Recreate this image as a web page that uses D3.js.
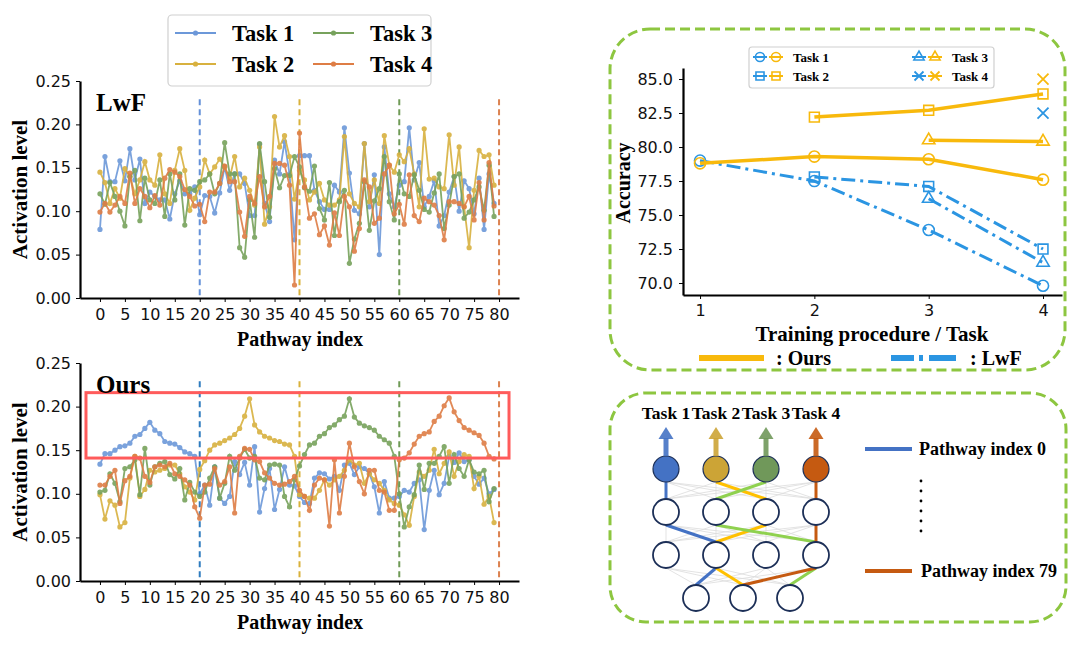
<!DOCTYPE html>
<html>
<head>
<meta charset="utf-8">
<script src="https://cdn.jsdelivr.net/npm/d3@7"></script>
<style>
  body { margin: 0; background: #fff; }
  svg { display: block; }
  .tick text { font-family: "DejaVu Sans", sans-serif; font-size: 16px; fill: #111; }
  .serif { font-family: "Liberation Serif", "Times New Roman", serif; font-weight: bold; fill: #000; }
</style>
</head>
<body>
<svg id="fig" width="1079" height="646"></svg>
<script>
// ---- data: activation level per pathway index ----
var taskNames = ["Task 1", "Task 2", "Task 3", "Task 4"];
var pathwayTicks = d3.range(0, 81, 5);
var activationTicks = [0, 0.05, 0.10, 0.15, 0.20, 0.25];
var taskBoundaries = [20, 40, 60, 80];

var lwfTask1 = [0.079,0.163,0.134,0.134,0.158,0.135,0.172,0.136,0.160,0.109,0.122,0.117,0.113,0.113,0.091,0.120,0.135,0.120,0.120,0.128,
  0.096,0.118,0.117,0.098,0.121,0.151,0.124,0.143,0.143,0.132,0.095,0.095,0.177,0.109,0.088,0.159,0.143,0.180,0.143,0.067,
  0.164,0.164,0.164,0.124,0.111,0.102,0.102,0.130,0.122,0.196,0.144,0.101,0.097,0.178,0.105,0.142,0.050,0.174,0.120,0.105,
  0.130,0.134,0.196,0.136,0.156,0.105,0.117,0.135,0.083,0.095,0.122,0.140,0.100,0.135,0.126,0.097,0.138,0.079,0.143,0.109];
var lwfTask2 = [0.145,0.133,0.109,0.126,0.115,0.149,0.140,0.120,0.136,0.157,0.136,0.130,0.165,0.120,0.109,0.147,0.172,0.147,0.101,0.115,
  0.128,0.159,0.143,0.151,0.160,0.151,0.138,0.163,0.128,0.138,0.124,0.107,0.174,0.085,0.105,0.209,0.174,0.187,0.163,0.114,
  0.147,0.136,0.113,0.122,0.132,0.113,0.107,0.107,0.113,0.186,0.120,0.109,0.105,0.178,0.111,0.136,0.109,0.187,0.153,0.145,
  0.165,0.157,0.172,0.143,0.105,0.195,0.137,0.138,0.128,0.126,0.188,0.130,0.174,0.105,0.058,0.124,0.170,0.163,0.165,0.130];
var lwfTask3 = [0.120,0.108,0.133,0.117,0.100,0.083,0.140,0.147,0.089,0.138,0.113,0.109,0.136,0.094,0.143,0.113,0.143,0.084,0.126,0.124,
  0.134,0.136,0.143,0.120,0.132,0.179,0.143,0.143,0.058,0.047,0.113,0.070,0.178,0.134,0.093,0.149,0.127,0.141,0.141,0.163,
  0.151,0.127,0.123,0.152,0.103,0.090,0.133,0.072,0.111,0.124,0.040,0.068,0.086,0.134,0.078,0.112,0.126,0.163,0.111,0.090,
  0.143,0.120,0.117,0.142,0.124,0.102,0.099,0.121,0.143,0.080,0.107,0.140,0.143,0.092,0.099,0.113,0.128,0.101,0.153,0.094];
var lwfTask4 = [0.099,0.109,0.099,0.107,0.117,0.109,0.144,0.109,0.126,0.117,0.104,0.118,0.107,0.138,0.148,0.145,0.140,0.125,0.117,0.106,
  0.108,0.088,0.122,0.122,0.132,0.152,0.134,0.134,0.099,0.071,0.117,0.109,0.140,0.105,0.117,0.155,0.155,0.153,0.130,0.015,
  0.190,0.128,0.092,0.097,0.073,0.083,0.061,0.098,0.072,0.117,0.105,0.054,0.080,0.136,0.128,0.086,0.092,0.143,0.153,0.097,
  0.108,0.085,0.142,0.095,0.088,0.115,0.111,0.107,0.095,0.067,0.111,0.111,0.109,0.105,0.117,0.090,0.133,0.090,0.156,0.106];

var oursTask1 = [0.134,0.146,0.146,0.150,0.154,0.155,0.158,0.166,0.168,0.175,0.182,0.173,0.169,0.160,0.158,0.157,0.153,0.148,0.146,0.143,
  0.100,0.110,0.087,0.131,0.095,0.089,0.097,0.137,0.122,0.136,0.110,0.154,0.079,0.106,0.129,0.082,0.105,0.131,0.110,0.109,
  0.097,0.090,0.089,0.118,0.124,0.123,0.117,0.120,0.104,0.133,0.135,0.122,0.131,0.129,0.123,0.108,0.078,0.114,0.095,0.095,
  0.097,0.104,0.102,0.112,0.116,0.059,0.104,0.127,0.099,0.112,0.143,0.136,0.147,0.137,0.139,0.120,0.111,0.118,0.100,0.105];
var oursTask2 = [0.099,0.071,0.092,0.087,0.062,0.067,0.118,0.143,0.097,0.105,0.127,0.125,0.127,0.129,0.133,0.133,0.123,0.108,0.102,0.093,
  0.128,0.138,0.150,0.156,0.158,0.161,0.164,0.168,0.175,0.189,0.209,0.179,0.171,0.166,0.164,0.161,0.160,0.157,0.156,0.143,
  0.099,0.097,0.095,0.095,0.104,0.116,0.110,0.116,0.120,0.127,0.139,0.133,0.135,0.112,0.123,0.116,0.112,0.104,0.093,0.089,
  0.087,0.076,0.064,0.097,0.125,0.120,0.127,0.151,0.123,0.135,0.148,0.120,0.137,0.145,0.143,0.106,0.120,0.088,0.097,0.067];
var oursTask3 = [0.102,0.104,0.123,0.112,0.091,0.129,0.131,0.139,0.099,0.152,0.110,0.131,0.135,0.137,0.122,0.117,0.129,0.093,0.113,0.102,
  0.097,0.102,0.118,0.131,0.095,0.112,0.143,0.127,0.141,0.151,0.141,0.143,0.118,0.116,0.133,0.134,0.133,0.097,0.085,0.116,
  0.132,0.145,0.156,0.158,0.166,0.169,0.176,0.179,0.185,0.189,0.209,0.188,0.181,0.178,0.176,0.173,0.166,0.162,0.158,0.143,
  0.100,0.062,0.085,0.099,0.133,0.105,0.135,0.135,0.143,0.154,0.112,0.145,0.129,0.120,0.139,0.125,0.123,0.127,0.091,0.106];
var oursTask4 = [0.110,0.110,0.120,0.127,0.089,0.115,0.120,0.143,0.141,0.120,0.113,0.131,0.133,0.131,0.135,0.123,0.120,0.116,0.110,0.085,
  0.072,0.110,0.111,0.129,0.110,0.114,0.131,0.078,0.143,0.152,0.151,0.139,0.137,0.124,0.118,0.112,0.110,0.111,0.114,0.120,
  0.104,0.097,0.081,0.110,0.118,0.116,0.063,0.139,0.078,0.120,0.158,0.131,0.114,0.100,0.127,0.127,0.104,0.102,0.081,0.081,
  0.139,0.141,0.147,0.157,0.166,0.169,0.171,0.183,0.189,0.201,0.210,0.194,0.184,0.176,0.173,0.170,0.167,0.158,0.143,0.140];

var lwfSeries = [lwfTask1, lwfTask2, lwfTask3, lwfTask4];
var oursSeries = [oursTask1, oursTask2, oursTask3, oursTask4];

// ---- data: accuracy per training step ----
var steps = [1, 2, 3, 4];
var accuracyTicks = [70, 72.5, 75, 77.5, 80, 82.5, 85];
// [task][step-1], null where the task is not trained yet
var oursAcc = [
  [78.8, 79.3, 79.1, 77.6],
  [null, 82.2, 82.7, 83.9],
  [null, null, 80.5, 80.4],
  [null, null, null, 85.0]
];
var lwfAcc = [
  [79.0, 77.5, 73.9, 69.8],
  [null, 77.8, 77.1, 72.5],
  [null, null, 76.2, 71.5],
  [null, null, null, 82.5]
];
var markerTypes = [d3.symbolCircle, d3.symbolSquare, d3.symbolTriangle, "x"];

// ---- diagram: nodes per layer and the node each task pathway goes through ----
var layerSizes = [4, 4, 4, 3];
var taskPaths = [
  [0, 0, 1, 0],
  [1, 2, 1, 1],
  [2, 1, 3, 2],
  [3, 3, 3, 1]
];

// ---- colours ----
var lineColors = ["#6c98d9", "#d8b13f", "#77a25c", "#de7d45"];
var nodeColors = ["#4472c4", "#cca436", "#70985a", "#c55a11"];
var pathColors = ["#4472c4", "#ffc000", "#8fd14f", "#c55a11"];
var oursColor = "#f8b90c", lwfColor = "#2b95e2";
var boxGreen = "#8dc640";

var svg = d3.select("#fig");

function serifText(g, x, y, txt, size, anchor) {
  return g.append("text").attr("class", "serif")
    .attr("x", x).attr("y", y)
    .attr("font-size", size)
    .attr("text-anchor", anchor || "start")
    .text(txt);
}

// ================= activation panels =================
function activationPanel(top, bottom, series, title, boundaryColors, box) {
  var g = svg.append("g");
  var x = d3.scaleLinear().domain([-4, 84]).range([80, 519]);
  var y = d3.scaleLinear().domain([0, 0.25]).range([bottom, top]);

  g.append("g").attr("transform", "translate(0," + bottom + ")")
    .call(d3.axisBottom(x).tickValues(pathwayTicks).tickSize(4).tickPadding(7).tickSizeOuter(0))
    .call(function (a) { a.select(".domain").attr("stroke-width", 2.2); });
  g.append("g").attr("transform", "translate(80,0)")
    .call(d3.axisLeft(y).tickValues(activationTicks).tickFormat(d3.format(".2f")).tickSize(4).tickPadding(5).tickSizeOuter(0))
    .call(function (a) { a.select(".domain").attr("stroke-width", 2.2); });

  // task boundaries
  taskBoundaries.forEach(function (b, i) {
    g.append("line")
      .attr("x1", x(b)).attr("x2", x(b))
      .attr("y1", y(0.229)).attr("y2", y(0))
      .attr("stroke", boundaryColors[i]).attr("stroke-width", 2)
      .attr("stroke-dasharray", "6,4");
  });

  var line = d3.line().x(function (d, i) { return x(i); }).y(function (d) { return y(d); });
  series.forEach(function (vals, k) {
    var s = g.append("g").attr("opacity", 0.9);
    s.append("path").datum(vals)
      .attr("d", line).attr("fill", "none")
      .attr("stroke", lineColors[k]).attr("stroke-width", 1.8);
    s.selectAll("circle").data(vals).join("circle")
      .attr("cx", function (d, i) { return x(i); })
      .attr("cy", function (d) { return y(d); })
      .attr("r", 2.6).attr("fill", lineColors[k]);
  });

  if (box) {
    g.append("rect")
      .attr("x", x(box[0])).attr("y", y(box[3]))
      .attr("width", x(box[1]) - x(box[0]))
      .attr("height", y(box[2]) - y(box[3]))
      .attr("fill", "none").attr("stroke", "#ff5b5b").attr("stroke-width", 3);
  }

  serifText(g, 96, top + 30, title, 25);
  serifText(g, 0, 0, "Activation level", 21, "middle")
    .attr("transform", "translate(27," + (top + bottom) / 2 + ") rotate(-90)");
  serifText(g, 300, bottom + 48, "Pathway index", 20, "middle");
}

activationPanel(81, 298, lwfSeries, "LwF", ["#6390d8", "#d9b13b", "#6f9a56", "#dc8250"], null);
activationPanel(363, 581, oursSeries, "Ours", ["#2f7cbf", "#d9b13b", "#6f9a56", "#dc8250"], [-2.8, 82, 0.141, 0.216]);

// top legend
(function () {
  var g = svg.append("g");
  g.append("rect").attr("x", 168).attr("y", 15).attr("width", 263).attr("height", 71)
    .attr("rx", 4).attr("fill", "#fff").attr("stroke", "#d0d0d0").attr("stroke-width", 1.2);
  taskNames.forEach(function (name, i) {
    var col = Math.floor(i / 2), row = i % 2;
    var lx = 175 + col * 138, ly = 33 + row * 31;
    g.append("line").attr("x1", lx).attr("x2", lx + 41).attr("y1", ly).attr("y2", ly)
      .attr("stroke", lineColors[i]).attr("stroke-width", 2);
    g.append("circle").attr("cx", lx + 20.5).attr("cy", ly).attr("r", 2.6).attr("fill", lineColors[i]);
    serifText(g, lx + 57, ly + 7.5, name, 22.5);
  });
})();

// ================= accuracy panel =================
(function () {
  var g = svg.append("g");
  g.append("rect").attr("x", 610).attr("y", 29).attr("width", 455).attr("height", 341)
    .attr("rx", 40).attr("fill", "none").attr("stroke", boxGreen)
    .attr("stroke-width", 3).attr("stroke-dasharray", "10,5");

  var x = d3.scaleLinear().domain([0.851, 4.166]).range([683, 1062]);
  var y = d3.scaleLinear().domain([69.12, 85.81]).range([295, 68]);

  g.append("g").attr("transform", "translate(0,295)")
    .call(d3.axisBottom(x).tickValues(steps).tickFormat(d3.format("d")).tickSize(4).tickPadding(6).tickSizeOuter(0))
    .call(function (a) { a.select(".domain").attr("stroke-width", 2.2); });
  g.append("g").attr("transform", "translate(683,0)")
    .call(d3.axisLeft(y).tickValues(accuracyTicks).tickFormat(d3.format(".1f")).tickSize(4).tickPadding(6).tickSizeOuter(0))
    .call(function (a) { a.select(".domain").attr("stroke-width", 2.2); });

  function marker(sel, type, color, size) {
    if (type === "x") {
      var h = size * 0.5;
      sel.append("path").attr("d", "M" + -h + "," + -h + "L" + h + "," + h + "M" + -h + "," + h + "L" + h + "," + -h)
        .attr("stroke", color).attr("stroke-width", 1.8).attr("fill", "none");
    } else {
      var a = type === d3.symbolTriangle ? size * size * 0.55 : size * size * 0.8;
      sel.append("path").attr("d", d3.symbol().type(type).size(a)())
        .attr("fill", "none").attr("stroke", color).attr("stroke-width", 1.6);
    }
  }

  function drawMethod(acc, color, dash, width) {
    acc.forEach(function (vals, k) {
      var pts = steps.map(function (s, i) { return [s, vals[i]]; }).filter(function (p) { return p[1] !== null; });
      var ln = d3.line().x(function (p) { return x(p[0]); }).y(function (p) { return y(p[1]); });
      if (pts.length > 1) {
        g.append("path").datum(pts).attr("d", ln).attr("fill", "none")
          .attr("stroke", color).attr("stroke-width", width)
          .attr("stroke-dasharray", dash);
      }
      pts.forEach(function (p) {
        var m = g.append("g").attr("transform", "translate(" + x(p[0]) + "," + y(p[1]) + ")");
        marker(m, markerTypes[k], color, 11);
      });
    });
  }
  drawMethod(lwfAcc, lwfColor, "14,5,3,5", 3);
  drawMethod(oursAcc, oursColor, null, 3.5);

  // legend
  g.append("rect").attr("x", 749).attr("y", 47).attr("width", 245).attr("height", 41)
    .attr("rx", 3).attr("fill", "#fff").attr("fill-opacity", 0.8).attr("stroke", "#d0d0d0").attr("stroke-width", 1.2);
  taskNames.forEach(function (name, k) {
    var col = Math.floor(k / 2), row = k % 2;
    var lx = 760 + col * 159, ly = 57 + row * 19;
    [lwfColor, oursColor].forEach(function (c, j) {
      var cx = lx + j * 16;
      g.append("line").attr("x1", cx - 7).attr("x2", cx + 7).attr("y1", ly).attr("y2", ly)
        .attr("stroke", c).attr("stroke-width", 2);
      var m = g.append("g").attr("transform", "translate(" + cx + "," + ly + ")");
      marker(m, markerTypes[k], c, 9);
    });
    serifText(g, lx + 33, ly + 4.5, name, 13);
  });

  serifText(g, 0, 0, "Accuracy", 20, "middle").attr("transform", "translate(630,183) rotate(-90)");
  serifText(g, 872, 341, "Training procedure / Task", 21, "middle");

  g.append("line").attr("x1", 699).attr("x2", 764).attr("y1", 358).attr("y2", 358)
    .attr("stroke", oursColor).attr("stroke-width", 6);
  serifText(g, 776, 365, ": Ours", 20);
  g.append("line").attr("x1", 891).attr("x2", 956).attr("y1", 358).attr("y2", 358)
    .attr("stroke", lwfColor).attr("stroke-width", 6).attr("stroke-dasharray", "23,5,4,6,27");
  serifText(g, 970, 365, ": LwF", 20);
})();

// ================= pathway diagram =================
(function () {
  var g = svg.append("g");
  g.append("rect").attr("x", 610).attr("y", 393).attr("width", 456).attr("height", 229)
    .attr("rx", 36).attr("fill", "none").attr("stroke", boxGreen)
    .attr("stroke-width", 3).attr("stroke-dasharray", "10,5");

  var r = 13;
  var ly = d3.scalePoint().domain(d3.range(layerSizes.length)).range([469, 598]);
  var wide = d3.scalePoint().domain(d3.range(4)).range([666, 816]);
  var narrow = d3.scalePoint().domain(d3.range(3)).range([696, 790]);
  function nx(layer, i) { return layerSizes[layer] === 4 ? wide(i) : narrow(i); }

  // light full connections
  for (var l = 0; l < layerSizes.length - 1; l++) {
    for (var a = 0; a < layerSizes[l]; a++) {
      for (var b = 0; b < layerSizes[l + 1]; b++) {
        g.append("line")
          .attr("x1", nx(l, a)).attr("y1", ly(l) + r)
          .attr("x2", nx(l + 1, b)).attr("y2", ly(l + 1) - r)
          .attr("stroke", "#dcdcdc").attr("stroke-width", 0.8);
      }
    }
  }
  // task pathways
  taskPaths.forEach(function (p, k) {
    for (var l = 0; l < p.length - 1; l++) {
      g.append("line")
        .attr("x1", nx(l, p[l])).attr("y1", ly(l) + r)
        .attr("x2", nx(l + 1, p[l + 1])).attr("y2", ly(l + 1) - r)
        .attr("stroke", pathColors[k]).attr("stroke-width", 3);
    }
  });
  // nodes
  layerSizes.forEach(function (n, l) {
    d3.range(n).forEach(function (i) {
      g.append("circle").attr("cx", nx(l, i)).attr("cy", ly(l)).attr("r", r)
        .attr("fill", l === 0 ? nodeColors[i] : "#fff")
        .attr("stroke", "#1c2f57").attr("stroke-width", l === 0 ? 1.2 : 1.8);
    });
  });
  // output arrows and task labels
  taskNames.forEach(function (name, i) {
    var cx = wide(i), base = ly(0) - r;
    g.append("rect").attr("x", cx - 2.5).attr("y", base - 18).attr("width", 5).attr("height", 18)
      .attr("fill", nodeColors[i]).attr("opacity", 0.9);
    g.append("path").attr("d", "M" + (cx - 7.5) + "," + (base - 17) + "L" + (cx + 7.5) + "," + (base - 17) + "L" + cx + "," + (base - 29) + "Z")
      .attr("fill", nodeColors[i]).attr("opacity", 0.9);
    serifText(g, cx, 419, name, 17.5, "middle");
  });

  // legend
  g.append("line").attr("x1", 865).attr("x2", 912).attr("y1", 449).attr("y2", 449)
    .attr("stroke", nodeColors[0]).attr("stroke-width", 4);
  serifText(g, 919, 455, "Pathway index 0", 18);
  d3.range(6).forEach(function (i) {
    g.append("circle").attr("cx", 921).attr("cy", 481 + i * 10).attr("r", 1.4).attr("fill", "#000");
  });
  g.append("line").attr("x1", 865).attr("x2", 912).attr("y1", 571).attr("y2", 571)
    .attr("stroke", nodeColors[3]).attr("stroke-width", 4);
  serifText(g, 921, 577, "Pathway index 79", 18);
})();
</script>
</body>
</html>
